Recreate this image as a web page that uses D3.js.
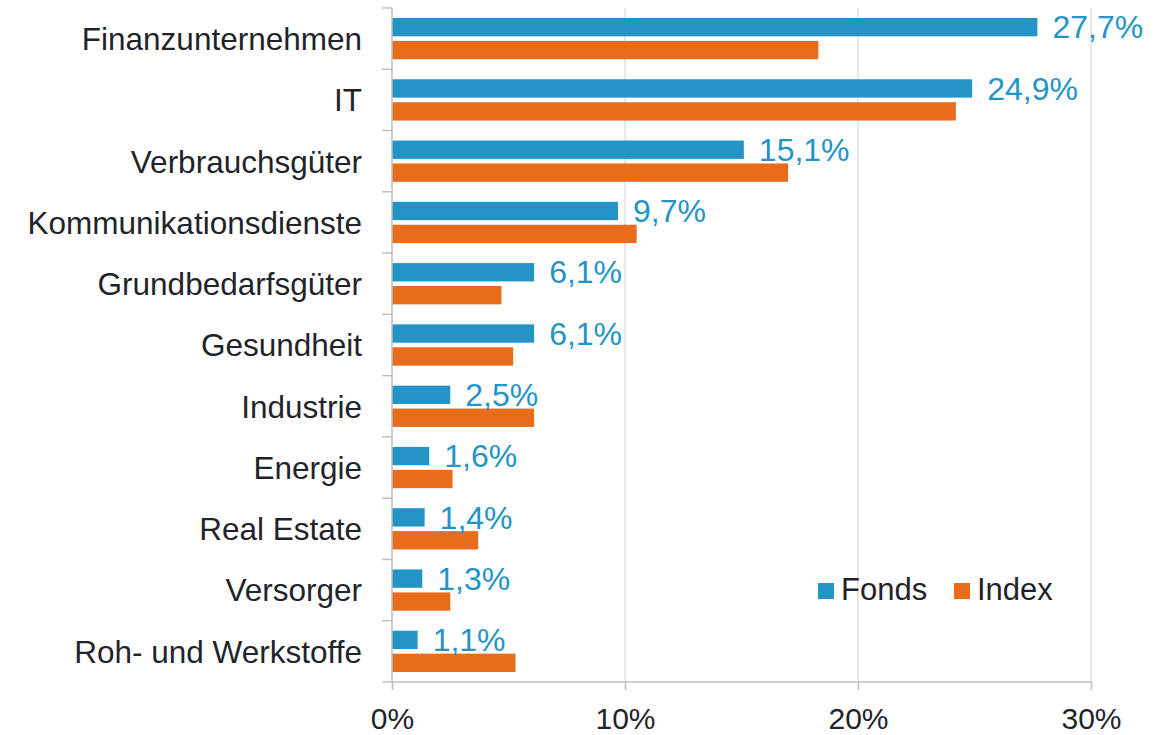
<!DOCTYPE html>
<html>
<head>
<meta charset="utf-8">
<script src="https://cdn.jsdelivr.net/npm/d3@7"></script>
<style>
  body { margin: 0; background: #fff; }
  text { font-family: "Liberation Sans", Arial, sans-serif; }
</style>
</head>
<body>
<script>
'use strict';

// data
const categories = ['Finanzunternehmen', 'IT', 'Verbrauchsgüter', 'Kommunikationsdienste',
  'Grundbedarfsgüter', 'Gesundheit', 'Industrie', 'Energie', 'Real Estate', 'Versorger',
  'Roh- und Werkstoffe'];
const fonds = [27.7, 24.9, 15.1, 9.7, 6.1, 6.1, 2.5, 1.6, 1.4, 1.3, 1.1];
const index = [18.3, 24.2, 17.0, 10.5, 4.7, 5.2, 6.1, 2.6, 3.7, 2.5, 5.3];
const seriesNames = ['Fonds', 'Index'];
const xTicks = [0, 10, 20, 30];

const colors = { Fonds: '#2493c5', Index: '#e96b1c' };
const textColor = '#1f242b';

let svg = d3.select('body').append('svg')
  .attr('width', 1175)
  .attr('height', 735);

let x = d3.scaleLinear().domain([0, 30]).range([392, 1091]);
let y = d3.scaleBand().domain(categories).range([8, 682]);
let inner = d3.scaleBand().domain(seriesNames).range([10, y.bandwidth() - 10]).paddingInner(0.2);

// gridlines
svg.append('g')
  .selectAll('line')
  .data(xTicks.slice(1))
  .enter()
  .append('line')
    .attr('x1', d => x(d)).attr('x2', d => x(d))
    .attr('y1', 8).attr('y2', 682)
    .style('stroke', '#d9d9d9')
    .style('stroke-width', 1.2);

// bars
let rows = categories.map((c, i) => ({ cat: c, Fonds: fonds[i], Index: index[i] }));

let groups = svg.selectAll('.row')
  .data(rows)
  .enter()
  .append('g')
    .attr('class', 'row')
    .attr('transform', d => 'translate(0,' + y(d.cat) + ')');

seriesNames.forEach(s => {
  groups.append('rect')
    .attr('x', x(0))
    .attr('y', inner(s))
    .attr('width', d => x(d[s]) - x(0))
    .attr('height', inner.bandwidth())
    .attr('fill', colors[s]);
});

// value labels for Fonds
groups.append('text')
  .attr('x', d => x(d.Fonds) + 15)
  .attr('y', inner('Fonds') + inner.bandwidth() + 2)
  .style('font-size', '32px')
  .style('fill', colors.Fonds)
  .text(d => d.Fonds.toFixed(1).replace('.', ',') + '%');

// y axis
let yAxis = d3.axisLeft(y).tickSize(0).tickPadding(30);
let yg = svg.append('g')
  .attr('transform', 'translate(392,0)')
  .call(yAxis);
yg.select('.domain').remove();
yg.selectAll('text')
  .style('font-size', '31.5px')
  .style('fill', textColor)
  .attr('dy', '0.36em')
  .style('font-family', '"Liberation Sans", Arial, sans-serif');

// category separators
svg.append('g')
  .selectAll('line')
  .data(categories.map(c => y(c)).concat([682]))
  .enter()
  .append('line')
    .attr('x1', 382).attr('x2', 392)
    .attr('y1', d => d).attr('y2', d => d)
    .style('stroke', '#bfbfbf')
    .style('stroke-width', 1.5);
svg.append('line')
  .attr('x1', 392).attr('x2', 392)
  .attr('y1', 8).attr('y2', 682)
  .style('stroke', '#bfbfbf')
  .style('stroke-width', 1.5);

// x axis
let xAxis = d3.axisBottom(x).tickValues(xTicks).tickSize(8).tickPadding(18)
  .tickFormat(d => d + '%');
let xg = svg.append('g')
  .attr('transform', 'translate(0,682)')
  .call(xAxis);
xg.select('.domain').attr('d', 'M' + x(0) + ',0H' + x(30)).style('stroke', '#bfbfbf').style('stroke-width', 1.5);
xg.selectAll('.tick line').style('stroke', '#bfbfbf').style('stroke-width', 1.5);
xg.selectAll('text')
  .style('font-size', '30px')
  .style('fill', textColor)
  .style('font-family', '"Liberation Sans", Arial, sans-serif');

// legend
let legendX = [818, 954];
let legend = svg.selectAll('.legend')
  .data(seriesNames)
  .enter()
  .append('g')
    .attr('class', 'legend')
    .attr('transform', (d, i) => 'translate(' + legendX[i] + ',583)');
legend.append('rect')
  .attr('width', 16).attr('height', 16)
  .attr('fill', d => colors[d]);
legend.append('text')
  .attr('x', 23).attr('y', 17)
  .style('font-size', '31px')
  .style('fill', textColor)
  .text(d => d);
</script>
</body>
</html>
